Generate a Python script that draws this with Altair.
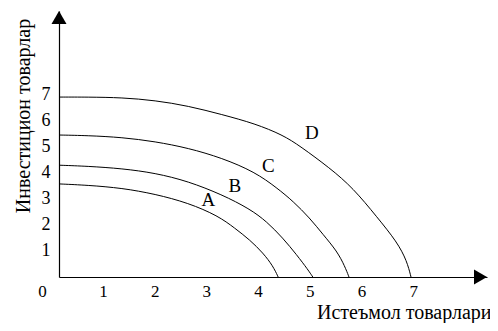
import altair as alt
import pandas as pd

# ---- data (x: consumer goods, y: investment goods) ----
curve_names = ["A", "B", "C", "D"]

a_x = [0.00, 0.56, 1.22, 1.86, 2.50, 3.08, 3.40, 3.69, 3.95, 4.14, 4.24]
a_y = [3.58, 3.53, 3.42, 3.19, 2.85, 2.35, 1.88, 1.43, 0.92, 0.42, 0.00]

b_x = [0.00, 0.56, 1.22, 1.86, 2.50, 3.15, 3.69, 4.02, 4.33, 4.60, 4.82, 4.91]
b_y = [4.30, 4.26, 4.17, 4.00, 3.68, 3.17, 2.62, 2.13, 1.50, 0.85, 0.27, 0.00]

c_x = [0.00, 0.56, 1.22, 1.86, 2.50, 3.15, 3.79, 4.22, 4.53, 4.85, 5.11, 5.38, 5.53, 5.61]
c_y = [5.46, 5.44, 5.37, 5.21, 4.96, 4.58, 4.04, 3.42, 2.91, 2.27, 1.63, 0.99, 0.41, 0.00]

d_x = [0.00, 0.56, 1.22, 1.86, 2.50, 3.15, 3.79, 4.33, 4.66, 5.24, 5.69, 6.15, 6.54, 6.73, 6.81]
d_y = [6.92, 6.92, 6.90, 6.79, 6.58, 6.25, 5.90, 5.46, 5.04, 4.19, 3.42, 2.31, 1.35, 0.62, 0.00]

label_x = [2.89, 3.40, 4.05, 4.89]
label_y = [2.97, 3.49, 4.26, 5.54]

x_ticks = [0, 1, 2, 3, 4, 5, 6, 7]
y_ticks = [1, 2, 3, 4, 5, 6, 7]

x_title = "Истеъмол товарлари"
y_title = "Инвестицион товарлар"

X_MAX = 8.28
Y_MAX = 10.23

# ---- tables ----
rows = []
for name, xs, ys in zip(curve_names, [a_x, b_x, c_x, d_x], [a_y, b_y, c_y, d_y]):
    for i, (xv, yv) in enumerate(zip(xs, ys)):
        rows.append({"curve": name, "x": xv, "y": yv, "i": i})
curves = pd.DataFrame(rows)
labels = pd.DataFrame({"curve": curve_names, "x": label_x, "y": label_y})
arrow_up_df = pd.DataFrame({"x": [0.0], "y": [Y_MAX]})
arrow_right_df = pd.DataFrame({"x": [X_MAX], "y": [0.0]})

FONT = "Liberation Serif, Times New Roman, DejaVu Serif, serif"
xscale = alt.Scale(domain=[0, X_MAX], nice=False, zero=False)
yscale = alt.Scale(domain=[0, Y_MAX], nice=False, zero=False)

x_axis = alt.Axis(
    values=x_ticks, ticks=False, grid=False,
    domainColor="black", domainWidth=1.2,
    labelFont=FONT, labelFontSize=17, labelColor="black",
    labelFlush=False, labelOverlap=False,
    labelBaseline="middle", labelPadding=14,
    labelOffset={"condition": {"test": "datum.value == 0", "value": -17}, "value": -7.7},
    title=x_title, titleFont=FONT, titleFontSize=20, titleFontWeight="normal",
    titleColor="black", titleX=432, titleY=41, titleAlign="right",
    titleBaseline="alphabetic", titleAnchor="end",
)
y_axis = alt.Axis(
    values=y_ticks, ticks=False, grid=False,
    domainColor="black", domainWidth=1.2,
    labelFont=FONT, labelFontSize=18, labelColor="black",
    labelOverlap=False, labelFlush=False,
    labelAlign="right", labelBaseline="middle", labelPadding=9,
    title=y_title, titleFont=FONT, titleFontSize=20, titleFontWeight="normal",
    titleColor="black", titleX=-36, titleY=104.5, titleAngle=-90,
    titleAlign="center", titleBaseline="middle",
)

X = alt.X("x:Q", scale=xscale, axis=x_axis)
Y = alt.Y("y:Q", scale=yscale, axis=y_axis)

lines = alt.Chart(curves).mark_line(
    color="black", strokeWidth=1, interpolate="basis"
).encode(x=X, y=Y, detail="curve:N", order="i:Q")

text = alt.Chart(labels).mark_text(
    font=FONT, fontSize=19, color="black", align="center", baseline="middle"
).encode(x=X, y=Y, text="curve:N")

arrow_up = alt.Chart(arrow_up_df).mark_point(
    shape="triangle-up", size=225, filled=True, color="black", opacity=1, yOffset=6.5
).encode(x=X, y=Y)

arrow_right = alt.Chart(arrow_right_df).mark_point(
    shape="triangle-right", size=225, filled=True, color="black", opacity=1, xOffset=-6.5
).encode(x=X, y=Y)

chart = alt.layer(lines, text, arrow_up, arrow_right).properties(
    width=428, height=266,
    padding={"left": 51, "top": 3, "right": 3, "bottom": 46},
    autosize=alt.AutoSizeParams(type="none"),
    background="white",
).configure_view(stroke=None)

chart.save("out.html", embed_options={"renderer": "svg", "actions": False})
